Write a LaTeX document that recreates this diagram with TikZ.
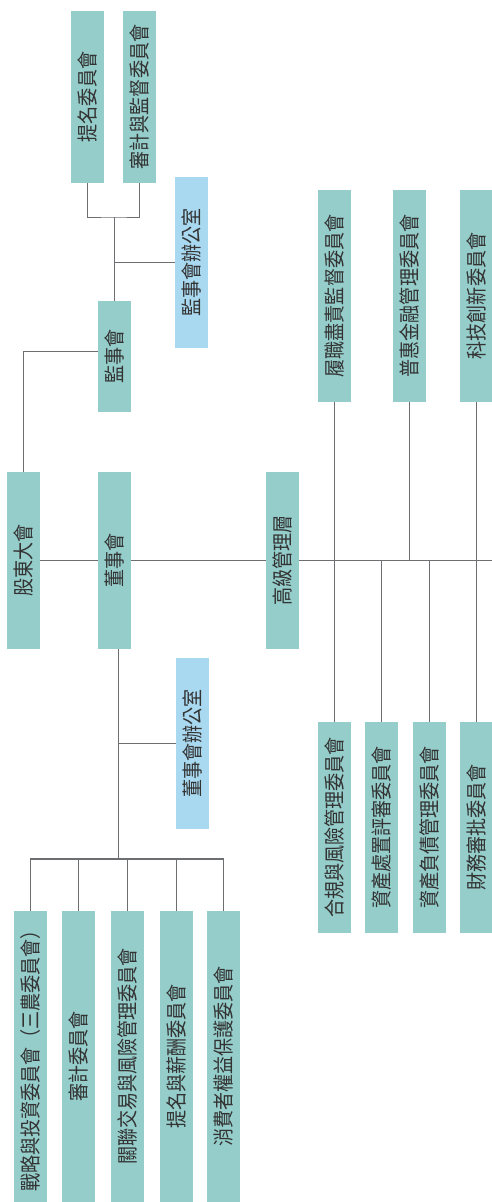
\documentclass[tikz,border=0pt]{standalone}
\usepackage{fontspec}
\setmainfont[FakeStretch=0.86]{Noto Sans CJK TC}
\usetikzlibrary{backgrounds}

\definecolor{boxteal}{HTML}{94CDCA}
\definecolor{boxblue}{HTML}{A9D9F0}
\definecolor{linegray}{HTML}{6D6E71}
\definecolor{textgray}{HTML}{333333}

\begin{document}
\begin{tikzpicture}[x=1pt, y=-1pt,
  unit/.style={fill=boxteal, rotate=90, inner sep=0pt, minimum height=33pt,
    text=textgray, font=\fontsize{21}{21}\selectfont},
  office/.style={unit, fill=boxblue},
  link/.style={draw=linegray, line width=1pt},
  boldlink/.style={draw=linegray, line width=1.8pt}]
\useasboundingbox (0,0) rectangle (492,1202);

% main line
\node[unit, minimum width=177pt] (sh) at (23.5,560.5) {股東大會};
\node[unit, minimum width=177pt] (bd) at (114.5,560.5) {董事會};
\node[unit, minimum width=177pt] (sm) at (282.5,560.5) {高級管理層};
\coordinate (spineend) at (492,560.5);

% supervisors
\node[unit, minimum width=111pt] (sv) at (114.5,356.5) {監事會};
\node[office, minimum width=171pt] (svoff) at (191.5,262.5) {監事會辦公室};
\node[unit, minimum width=172pt] (nom) at (87.5,97) {提名委員會};
\node[unit, minimum width=172pt] (aud) at (139.5,97) {審計與監督委員會};
\coordinate (svj) at (114.5,217);

% senior management committees
\node[unit, minimum width=212pt] (lz) at (334.5,296) {履職盡責監督委員會};
\node[unit, minimum width=212pt] (ph) at (409.5,296) {普惠金融管理委員會};
\node[unit, minimum width=212pt] (kj) at (476.5,296) {科技創新委員會};
\node[unit, minimum width=211pt] (hg) at (334.5,827.5) {合規與風險管理委員會};
\node[unit, minimum width=211pt] (zc) at (381.5,827.5) {資產處置評審委員會};
\node[unit, minimum width=211pt] (zf) at (429.5,827.5) {資產負債管理委員會};
\node[unit, minimum width=211pt] (cw) at (476.5,827.5) {財務審批委員會};

% board committees
\node[office, minimum width=171pt] (bdoff) at (192.5,743.5) {董事會辦公室};
\node[unit, minimum width=291pt] (c1) at (30.5,1056.5) {戰略與投資委員會（三農委員會）};
\node[unit, minimum width=291pt] (c2) at (78.5,1056.5) {審計委員會};
\node[unit, minimum width=291pt] (c3) at (127.5,1056.5) {關聯交易與風險管理委員會};
\node[unit, minimum width=291pt] (c4) at (176.5,1056.5) {提名與薪酬委員會};
\node[unit, minimum width=291pt] (c5) at (223.5,1056.5) {消費者權益保護委員會};
\coordinate (bdj) at (118,859);

\begin{scope}[on background layer]
\draw[link] (sh.center) -- (bd.center) -- (sm.center) -- (spineend);
\draw[link] (sh.center) |- ([yshift=5.5pt]sv.center);
\draw[link] (sv.center) -- (svj);
\draw[link] (nom.center) |- (svj) -| (aud.center);
\draw[link] (svoff.center -| svj) -- (svoff.center);
\draw[link] (lz.center) -- (hg.center);
\draw[link] (kj.center) -- (cw.center);
\draw[link] (ph.center) -- (ph.center |- sm.center);
\draw[link] (zc.center) -- (zc.center |- sm.center);
\draw[link] (zf.center) -- (zf.center |- sm.center);
\draw[link] (bdj |- bd.center) -- (bdj);
\draw[link] (bdoff.center -| bdj) -- (bdoff.center);
\draw[boldlink] (c1.center) |- (bdj) -| (c5.center);
\foreach \i in {2,3,4}
  \draw[boldlink] (c\i.center) -- (c\i.center |- bdj);
\end{scope}
\end{tikzpicture}
\end{document}
